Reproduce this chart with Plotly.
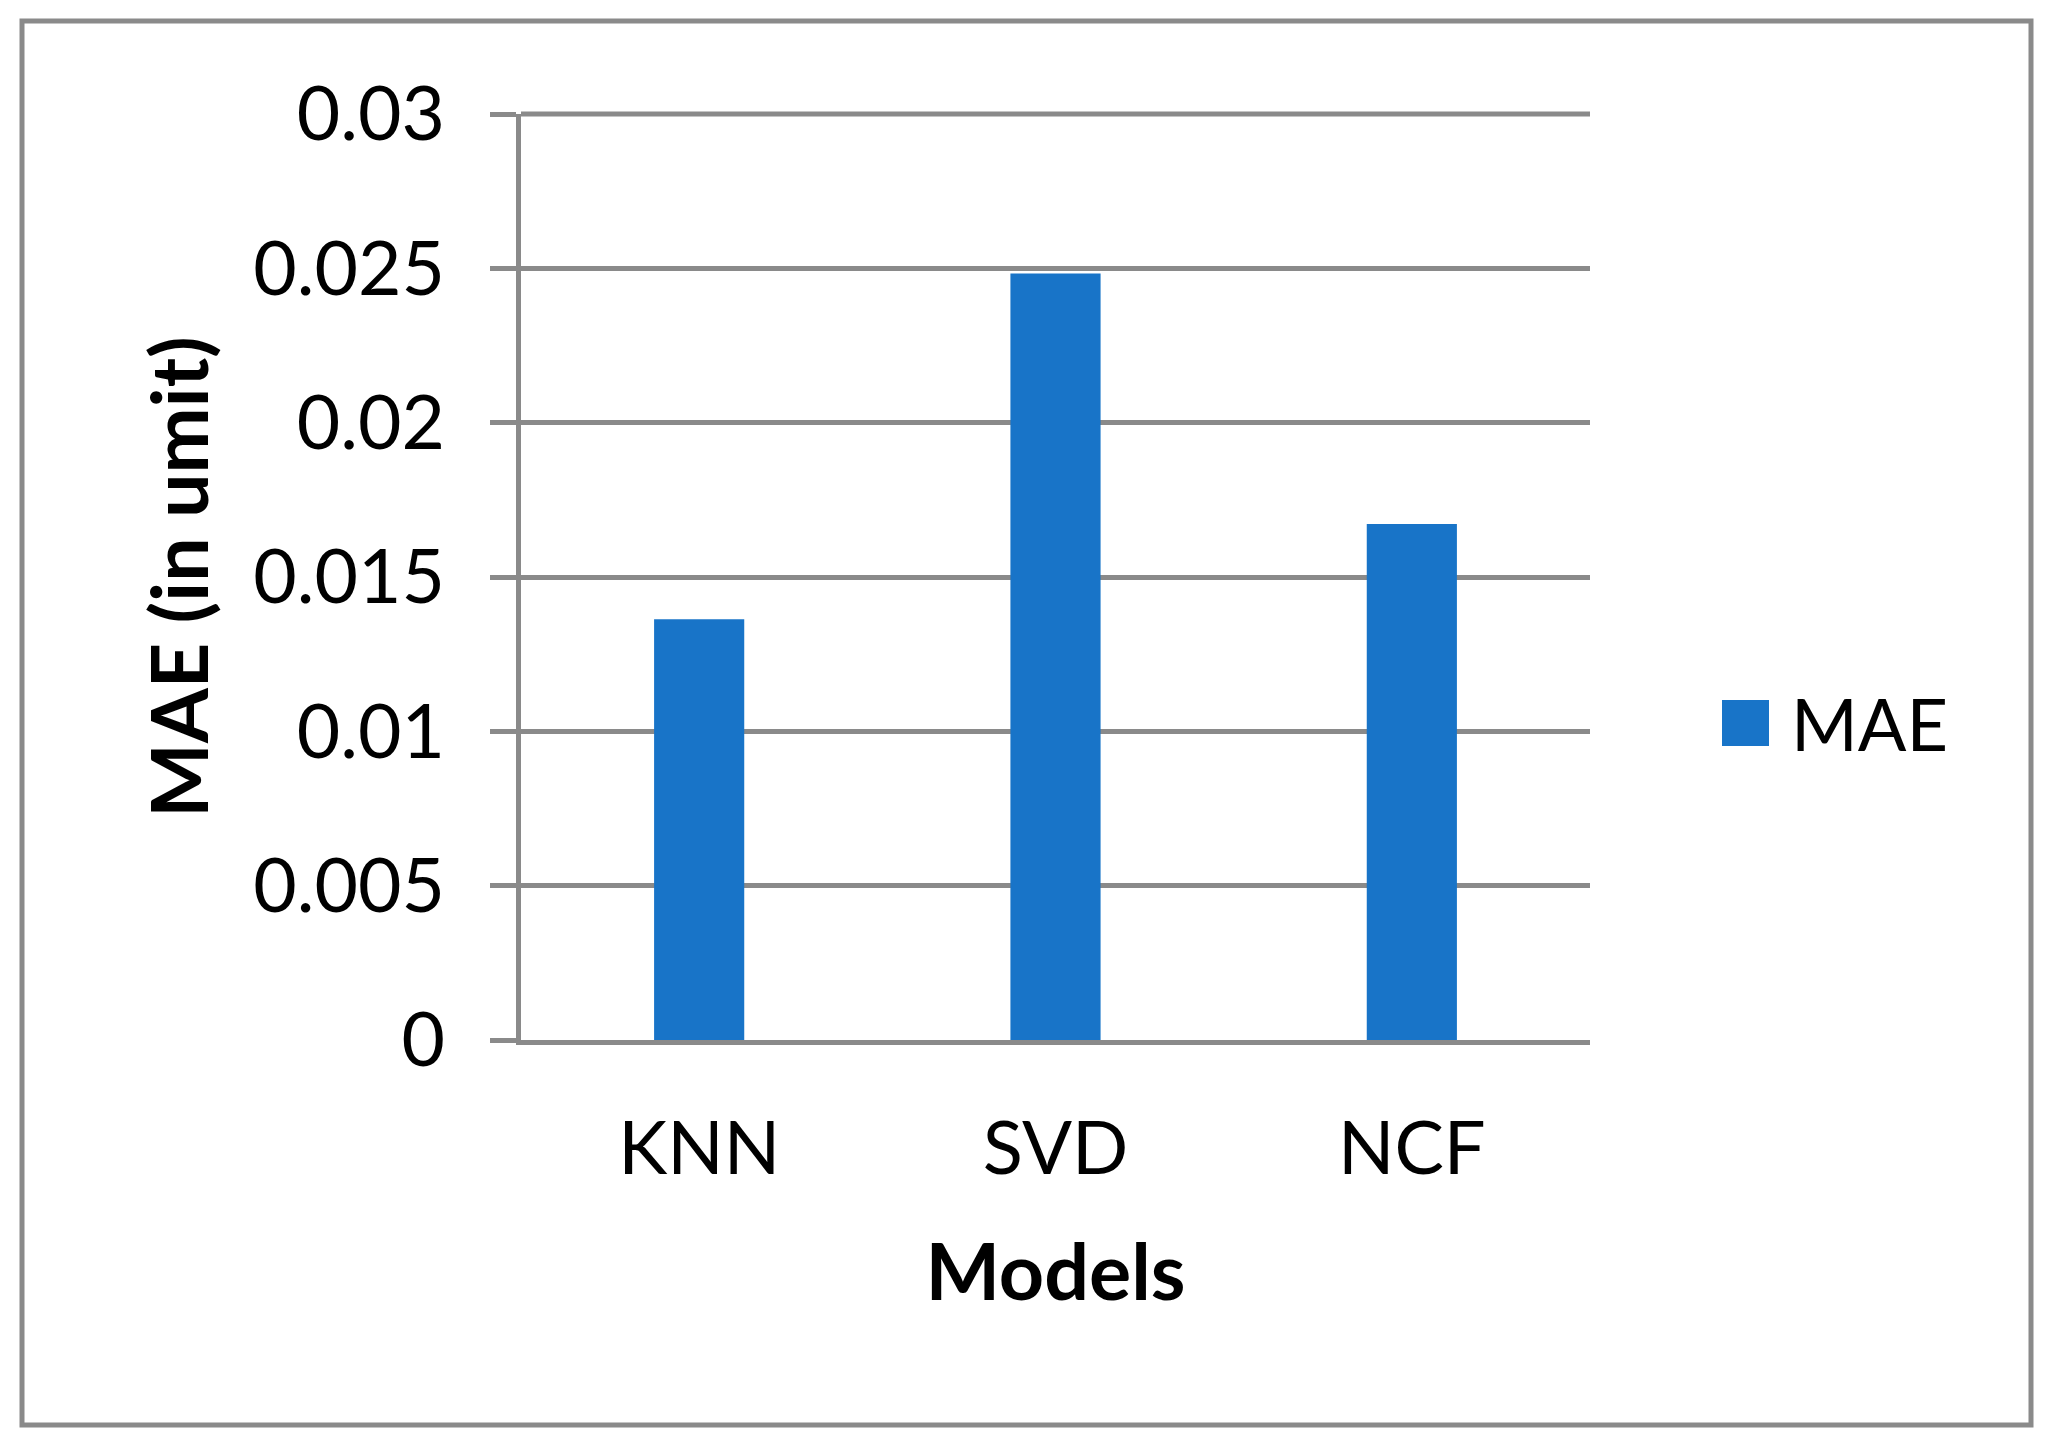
import plotly.graph_objects as go

# ---- data ----
models = ["KNN", "SVD", "NCF"]
mae_values = [0.01363, 0.02483, 0.01672]
y_tick_vals = [0, 0.005, 0.01, 0.015, 0.02, 0.025, 0.03]
y_tick_text = ["0", "0.005", "0.01", "0.015", "0.02", "0.025", "0.03"]
series_name = "MAE"

# ---- layout constants (pixels) ----
W, H = 2049, 1440
L, R, T, B = 521, 2049 - 1590, 114, 1440 - 1040
pw, ph = W - L - R, H - T - B
GRID = "#8a8a8a"
BAR = "#1874c8"
FONT = "Lato"

def px_x(x):
    return (x - L) / pw

def px_y(y):
    return (H - B - y) / ph

fig = go.Figure()
fig.add_trace(go.Bar(x=models, y=mae_values, name=series_name,
                     marker=dict(color=BAR, line=dict(width=0)),
                     showlegend=False))

fig.update_layout(
    width=W, height=H,
    margin=dict(l=L, r=R, t=T, b=B, pad=0),
    paper_bgcolor="white", plot_bgcolor="white",
    bargap=0.747,
    font=dict(family=FONT, color="black", size=75),
    xaxis=dict(
        showgrid=False, showline=True, linecolor=GRID, linewidth=5,
        ticks="", tickfont=dict(size=74, family=FONT),
        ticklabelstandoff=40,
        title=dict(text="<b>Models</b>", font=dict(size=79, family=FONT),
                   standoff=57),
    ),
    yaxis=dict(
        range=[0, 0.03], tickvals=y_tick_vals, ticktext=y_tick_text,
        showgrid=True, gridcolor=GRID, gridwidth=5,
        showline=True, linecolor=GRID, linewidth=5,
        ticks="outside", ticklen=26, tickwidth=5, tickcolor=GRID,
        ticklabelstandoff=30,
        tickfont=dict(size=75, family=FONT),
        zeroline=False,
        title=dict(text="<b>MAE (in umit)</b>", font=dict(size=79, family=FONT),
                   standoff=20),
    ),
)

# top gridline at the upper end of the y range (plotly omits it there)
fig.add_shape(type="line", xref="paper", yref="paper",
              x0=0, x1=1, y0=1, y1=1,
              line=dict(color=GRID, width=5), layer="above")

# outer chart border
fig.add_shape(type="rect", xref="paper", yref="paper",
              x0=px_x(22), x1=px_x(2031), y0=px_y(1425), y1=px_y(21),
              line=dict(color=GRID, width=5), fillcolor="rgba(0,0,0,0)",
              layer="below")

# legend (square + label)
fig.add_shape(type="rect", xref="paper", yref="paper",
              x0=px_x(1722), x1=px_x(1769), y0=px_y(746), y1=px_y(700),
              line=dict(width=0), fillcolor=BAR)
fig.add_annotation(xref="paper", yref="paper", x=px_x(1789), y=px_y(723),
                   text=series_name, showarrow=False, xanchor="left",
                   yanchor="middle", font=dict(size=72, family=FONT))

fig.write_html("out.html", config={"displayModeBar": False},
               post_script="document.body.style.margin='0px';document.body.style.padding='0px';")
